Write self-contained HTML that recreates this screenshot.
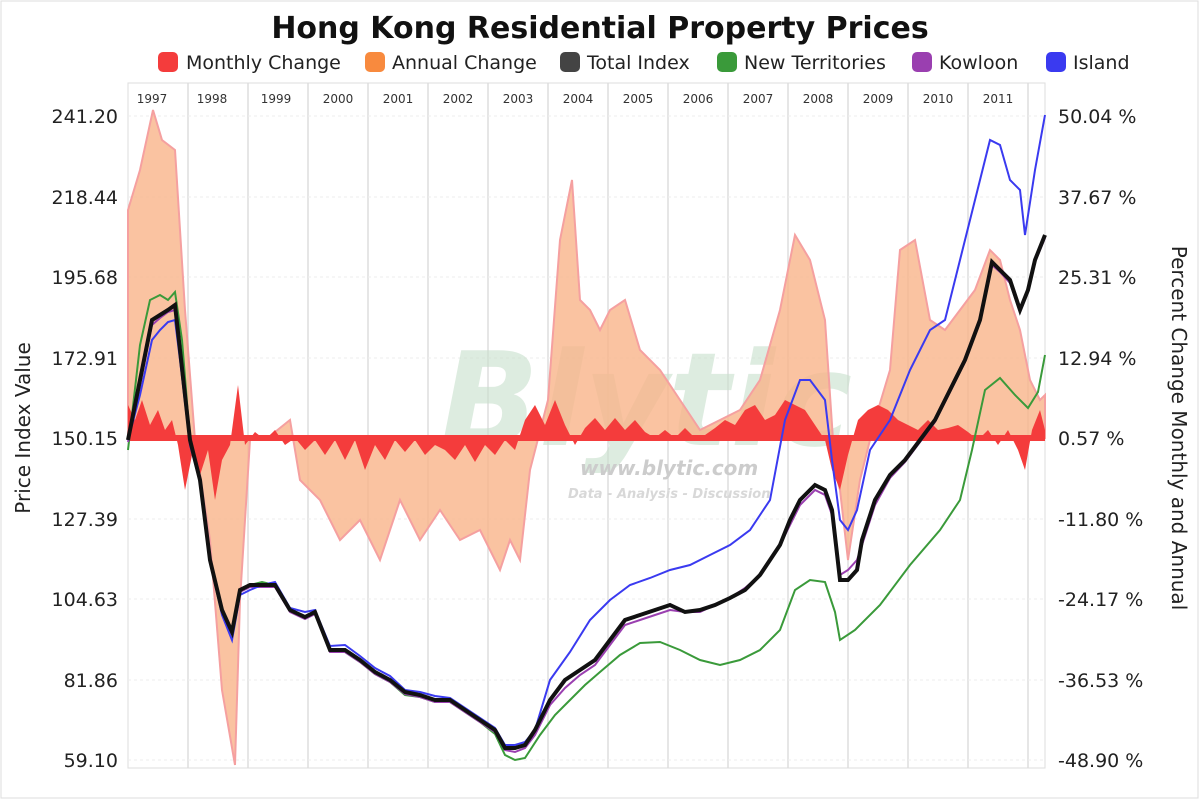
<!DOCTYPE html>
<html><head><meta charset="utf-8"><style>
body{margin:0;background:#fff;}
svg{display:block;font-family:"DejaVu Sans","Liberation Sans",sans-serif;}
</style></head><body>
<svg width="1200" height="800" viewBox="0 0 1200 800">
<rect x="0" y="0" width="1200" height="800" fill="#fff"/>
<rect x="1" y="1" width="1197" height="797" fill="none" stroke="#ddd"/>
<text x="600" y="38" text-anchor="middle" font-size="30" font-weight="bold" fill="#111">Hong Kong Residential Property Prices</text>
<g font-size="19" fill="#222">
<rect x="158" y="52" width="20" height="20" rx="5" fill="#f43c3c"/><text x="186" y="69">Monthly Change</text>
<rect x="365" y="52" width="20" height="20" rx="5" fill="#f88a3e"/><text x="392" y="69">Annual Change</text>
<rect x="560" y="52" width="20" height="20" rx="5" fill="#444"/><text x="587" y="69">Total Index</text>
<rect x="717" y="52" width="20" height="20" rx="5" fill="#3a9a3a"/><text x="744" y="69">New Territories</text>
<rect x="912" y="52" width="20" height="20" rx="5" fill="#9a3fb0"/><text x="939" y="69">Kowloon</text>
<rect x="1046" y="52" width="20" height="20" rx="5" fill="#3a3af0"/><text x="1073" y="69">Island</text>
</g>
<rect x="128" y="83" width="917" height="685" fill="#fff" stroke="#ddd"/>
<g stroke="#ddd" stroke-width="1.5">
<line x1="188" y1="83" x2="188" y2="768"/><line x1="248" y1="83" x2="248" y2="768"/><line x1="308" y1="83" x2="308" y2="768"/><line x1="368" y1="83" x2="368" y2="768"/><line x1="428" y1="83" x2="428" y2="768"/><line x1="488" y1="83" x2="488" y2="768"/><line x1="548" y1="83" x2="548" y2="768"/><line x1="608" y1="83" x2="608" y2="768"/><line x1="668" y1="83" x2="668" y2="768"/><line x1="728" y1="83" x2="728" y2="768"/><line x1="788" y1="83" x2="788" y2="768"/><line x1="848" y1="83" x2="848" y2="768"/><line x1="908" y1="83" x2="908" y2="768"/><line x1="968" y1="83" x2="968" y2="768"/><line x1="1028" y1="83" x2="1028" y2="768"/>
</g>
<g stroke="#eee" stroke-dasharray="3,3">
<line x1="128" y1="116" x2="1045" y2="116"/><line x1="128" y1="197" x2="1045" y2="197"/><line x1="128" y1="277" x2="1045" y2="277"/><line x1="128" y1="358" x2="1045" y2="358"/><line x1="128" y1="519" x2="1045" y2="519"/><line x1="128" y1="599" x2="1045" y2="599"/><line x1="128" y1="680" x2="1045" y2="680"/><line x1="128" y1="760" x2="1045" y2="760"/>
</g>
<g font-size="12" fill="#333" text-anchor="middle">
<text x="152" y="103">1997</text><text x="212" y="103">1998</text><text x="276" y="103">1999</text><text x="338" y="103">2000</text><text x="398" y="103">2001</text><text x="458" y="103">2002</text><text x="518" y="103">2003</text><text x="578" y="103">2004</text><text x="638" y="103">2005</text><text x="698" y="103">2006</text><text x="758" y="103">2007</text><text x="818" y="103">2008</text><text x="878" y="103">2009</text><text x="938" y="103">2010</text><text x="998" y="103">2011</text>
</g>
<text x="440" y="445" font-size="130" font-weight="bold" font-style="italic" fill="#c8e0cc" opacity="0.6">Blytic</text>
<text x="580" y="475" font-size="20" font-weight="bold" font-style="italic" fill="#ccc">www.blytic.com</text>
<text x="568" y="498" font-size="13" font-weight="bold" font-style="italic" fill="#d8d8d8">Data - Analysis - Discussion</text>
<polygon fill="#f9b48a" fill-opacity="0.8" stroke="#f5a0a0" stroke-width="2" points="128,438 128,210 140,170 153,110 162,140 175,150 185,310 195,440 210,540 222,690 235,765 240,600 250,440 265,440 290,420 300,480 320,500 340,540 360,520 380,560 400,500 420,540 440,510 460,540 480,530 500,570 510,540 520,560 530,470 548,400 560,240 572,180 580,300 590,310 600,330 610,310 625,300 640,350 660,370 680,400 700,430 720,420 740,410 760,380 780,310 795,235 810,260 825,320 835,470 840,490 848,560 860,480 875,420 890,370 900,250 915,240 930,320 945,330 960,310 975,290 990,250 1000,260 1010,300 1020,330 1030,380 1040,400 1045,395 1045,438"/>
<polygon fill="#f43c3c" points="128,438 128,405 135,420 142,400 150,425 158,410 165,430 172,420 178,445 185,490 192,455 200,475 208,450 215,500 222,460 230,445 238,385 245,445 255,432 265,440 275,430 285,445 295,438 305,450 315,440 325,455 335,440 345,460 355,440 365,470 375,445 385,460 395,440 405,452 415,440 425,455 435,445 445,450 455,460 465,445 475,462 485,445 495,455 505,440 515,450 525,420 535,405 545,425 555,400 565,425 575,445 585,428 595,418 605,430 615,418 625,430 635,420 645,432 655,438 665,430 675,438 685,428 695,438 705,435 715,428 725,420 735,425 745,410 755,405 765,420 775,415 785,400 795,405 805,410 815,425 825,440 832,470 840,490 848,455 858,420 868,410 878,405 888,410 898,420 908,425 918,430 928,420 938,430 948,428 958,425 968,432 978,440 988,430 998,445 1008,430 1018,450 1025,470 1032,430 1040,410 1045,430 1045,438"/>
<line x1="128" y1="438" x2="1045" y2="438" stroke="#f43c3c" stroke-width="6"/>
<polyline fill="none" stroke="#3a9a3a" stroke-width="2" points="128,450 140,345 150,300 160,295 168,300 175,292 182,340 190,440 200,480 210,560 222,610 232,632 240,590 250,585 262,582 275,585 290,610 305,617 315,612 330,650 345,652 360,662 375,674 390,682 405,695 420,697 435,702 450,702 465,712 480,722 495,734 505,755 515,760 525,758 540,735 555,715 570,700 585,685 600,672 620,655 640,643 660,642 680,650 700,660 720,665 740,660 760,650 780,630 795,590 810,580 825,582 835,612 840,640 855,630 880,605 910,565 940,530 960,500 972,450 985,390 1000,378 1015,395 1028,408 1038,392 1045,355"/>
<polyline fill="none" stroke="#9a3fb0" stroke-width="2" points="128,442 140,385 152,325 160,318 168,312 175,310 180,352 190,442 200,482 210,562 222,612 232,634 240,592 250,587 262,587 275,587 290,612 305,619 315,614 330,652 345,652 360,662 375,674 390,682 405,694 420,697 435,702 450,702 465,712 480,722 495,732 505,750 515,752 525,748 535,735 550,705 565,688 580,675 595,665 610,645 625,625 640,620 655,615 670,610 685,612 700,612 715,605 730,598 745,588 760,575 770,560 780,545 790,525 800,505 815,490 825,495 832,515 840,575 848,570 857,560 862,545 875,505 890,478 905,462 920,442 935,422 950,392 965,362 980,322 992,265 1000,272 1010,283 1020,312 1028,292 1035,262 1045,238"/>
<polyline fill="none" stroke="#3a3af0" stroke-width="2" points="128,440 140,395 152,340 160,330 168,322 175,320 180,360 190,445 200,482 210,562 222,615 232,640 240,595 250,590 262,585 275,582 290,608 305,612 315,610 330,646 345,645 360,656 375,668 390,676 405,690 420,692 435,696 450,698 465,708 480,718 495,728 505,745 515,745 525,742 535,730 550,680 570,652 590,620 610,600 630,585 650,578 670,570 690,565 710,555 730,545 750,530 770,500 785,420 800,380 810,380 825,400 832,460 840,520 848,530 857,510 870,450 890,420 910,370 930,330 945,320 960,260 975,200 990,140 1000,145 1010,180 1020,190 1025,235 1035,170 1045,115"/>
<polyline fill="none" stroke="#111" stroke-width="4" points="128,440 140,380 152,320 160,315 168,310 175,305 180,350 190,440 200,480 210,560 222,610 232,632 240,590 250,585 262,585 275,585 290,610 305,617 315,612 330,650 345,650 360,660 375,672 390,680 405,692 420,695 435,700 450,700 465,710 480,720 495,730 505,748 515,748 525,745 535,730 550,700 565,680 580,670 595,660 610,640 625,620 640,615 655,610 670,605 685,612 700,610 715,605 730,598 745,590 760,575 770,560 780,545 790,520 800,500 815,485 825,490 832,510 840,580 848,580 857,570 862,540 875,500 890,475 905,460 920,440 935,420 950,390 965,360 980,320 992,262 1000,270 1010,280 1020,310 1028,290 1035,260 1045,235"/>
<g font-size="19" fill="#222" text-anchor="end">
<text x="118" y="123">241.20</text><text x="118" y="204">218.44</text><text x="118" y="284">195.68</text><text x="118" y="365">172.91</text><text x="118" y="445">150.15</text><text x="118" y="526">127.39</text><text x="118" y="606">104.63</text><text x="118" y="687">81.86</text><text x="118" y="767">59.10</text>
</g>
<g font-size="19" fill="#222">
<text x="1058" y="123">50.04 %</text><text x="1058" y="204">37.67 %</text><text x="1058" y="284">25.31 %</text><text x="1058" y="365">12.94 %</text><text x="1058" y="445">0.57 %</text><text x="1058" y="526">-11.80 %</text><text x="1058" y="606">-24.17 %</text><text x="1058" y="687">-36.53 %</text><text x="1058" y="767">-48.90 %</text>
</g>
<text transform="translate(30,428) rotate(-90)" text-anchor="middle" font-size="20" fill="#222">Price Index Value</text>
<text transform="translate(1172,428) rotate(90)" text-anchor="middle" font-size="20" fill="#222">Percent Change Monthly and Annual</text>
</svg>
</body></html>
